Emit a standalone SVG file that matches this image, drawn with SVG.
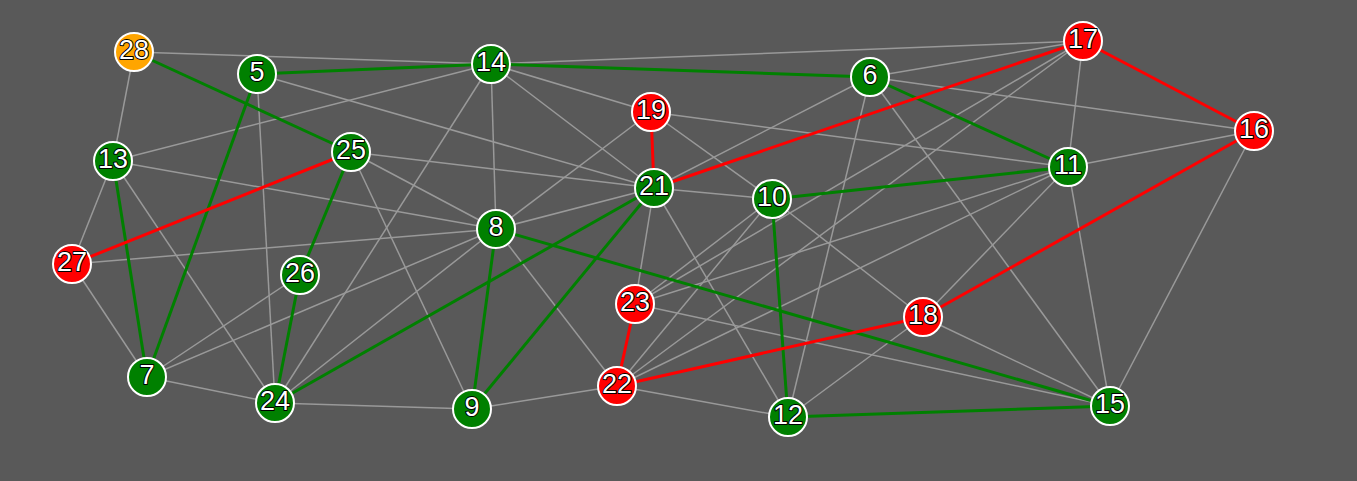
<svg xmlns="http://www.w3.org/2000/svg" width="1357" height="481" viewBox="0 0 1357 481">
<style>
.e{stroke:#999999;stroke-width:1.5;fill:none}
.g{stroke:#008000;stroke-width:3;fill:none}
.r{stroke:#ff0000;stroke-width:3;fill:none}
.n circle{stroke:#fff;stroke-width:2}
.n text{font-family:"Liberation Sans",Arial,sans-serif;font-size:27px;fill:#ffffff;stroke:#000000;stroke-width:2;stroke-linejoin:round;paint-order:stroke;text-anchor:middle}
.gn{fill:#008000}.rn{fill:#ff0000}.on{fill:#ffa500}
</style>
<rect width="1357" height="481" fill="#595959"/>
<g id="connectors">
<line class="e" x1="134" y1="52" x2="491" y2="64"/>
<line class="e" x1="134" y1="52" x2="113" y2="161"/>
<line class="e" x1="491" y1="64" x2="1083" y2="41"/>
<line class="e" x1="257" y1="74" x2="654" y2="188"/>
<line class="e" x1="257" y1="74" x2="275" y2="403"/>
<line class="e" x1="113" y1="161" x2="491" y2="64"/>
<line class="e" x1="113" y1="161" x2="496" y2="229"/>
<line class="e" x1="113" y1="161" x2="72" y2="264"/>
<line class="e" x1="113" y1="161" x2="275" y2="403"/>
<line class="e" x1="351" y1="152" x2="654" y2="188"/>
<line class="e" x1="351" y1="152" x2="496" y2="229"/>
<line class="e" x1="351" y1="152" x2="472" y2="409"/>
<line class="e" x1="491" y1="64" x2="275" y2="403"/>
<line class="e" x1="491" y1="64" x2="496" y2="229"/>
<line class="e" x1="491" y1="64" x2="654" y2="188"/>
<line class="e" x1="491" y1="64" x2="651" y2="112"/>
<line class="e" x1="496" y1="229" x2="651" y2="112"/>
<line class="e" x1="496" y1="229" x2="654" y2="188"/>
<line class="e" x1="496" y1="229" x2="72" y2="264"/>
<line class="e" x1="496" y1="229" x2="147" y2="377"/>
<line class="e" x1="147" y1="377" x2="300" y2="275"/>
<line class="e" x1="147" y1="377" x2="72" y2="264"/>
<line class="e" x1="147" y1="377" x2="275" y2="403"/>
<line class="e" x1="275" y1="403" x2="496" y2="229"/>
<line class="e" x1="275" y1="403" x2="472" y2="409"/>
<line class="e" x1="496" y1="229" x2="617" y2="386"/>
<line class="e" x1="472" y1="409" x2="617" y2="386"/>
<line class="e" x1="617" y1="386" x2="788" y2="417"/>
<line class="e" x1="654" y1="188" x2="635" y2="304"/>
<line class="e" x1="654" y1="188" x2="788" y2="417"/>
<line class="e" x1="635" y1="304" x2="1110" y2="406"/>
<line class="e" x1="788" y1="417" x2="870" y2="77"/>
<line class="e" x1="788" y1="417" x2="923" y2="317"/>
<line class="e" x1="772" y1="199" x2="651" y2="112"/>
<line class="e" x1="654" y1="188" x2="772" y2="199"/>
<line class="e" x1="651" y1="112" x2="1068" y2="167"/>
<line class="e" x1="654" y1="188" x2="870" y2="77"/>
<line class="e" x1="870" y1="77" x2="1083" y2="41"/>
<line class="e" x1="870" y1="77" x2="1254" y2="131"/>
<line class="e" x1="870" y1="77" x2="1110" y2="406"/>
<line class="e" x1="1083" y1="41" x2="1068" y2="167"/>
<line class="e" x1="1068" y1="167" x2="1254" y2="131"/>
<line class="e" x1="1254" y1="131" x2="1110" y2="406"/>
<line class="e" x1="1068" y1="167" x2="1110" y2="406"/>
<line class="e" x1="923" y1="317" x2="1110" y2="406"/>
<line class="e" x1="923" y1="317" x2="1068" y2="167"/>
<line class="e" x1="772" y1="199" x2="923" y2="317"/>
<line class="e" x1="1083" y1="41" x2="635" y2="304"/>
<line class="e" x1="1083" y1="41" x2="617" y2="386"/>
<line class="e" x1="1068" y1="167" x2="635" y2="304"/>
<line class="e" x1="1068" y1="167" x2="617" y2="386"/>
<line class="e" x1="772" y1="199" x2="617" y2="386"/>
<line class="e" x1="772" y1="199" x2="635" y2="304"/>
<line class="g" x1="134" y1="52" x2="351" y2="152"/>
<line class="g" x1="257" y1="74" x2="491" y2="64"/>
<line class="g" x1="491" y1="64" x2="870" y2="77"/>
<line class="g" x1="257" y1="74" x2="147" y2="377"/>
<line class="g" x1="870" y1="77" x2="1068" y2="167"/>
<line class="g" x1="113" y1="161" x2="147" y2="377"/>
<line class="g" x1="351" y1="152" x2="300" y2="275"/>
<line class="g" x1="300" y1="275" x2="275" y2="403"/>
<line class="g" x1="772" y1="199" x2="1068" y2="167"/>
<line class="g" x1="654" y1="188" x2="275" y2="403"/>
<line class="g" x1="654" y1="188" x2="472" y2="409"/>
<line class="g" x1="496" y1="229" x2="472" y2="409"/>
<line class="g" x1="496" y1="229" x2="1110" y2="406"/>
<line class="g" x1="772" y1="199" x2="788" y2="417"/>
<line class="g" x1="788" y1="417" x2="1110" y2="406"/>
<line class="r" x1="72" y1="264" x2="351" y2="152"/>
<line class="r" x1="651" y1="112" x2="654" y2="188"/>
<line class="r" x1="654" y1="188" x2="1083" y2="41"/>
<line class="r" x1="1083" y1="41" x2="1254" y2="131"/>
<line class="r" x1="1254" y1="131" x2="923" y2="317"/>
<line class="r" x1="923" y1="317" x2="617" y2="386"/>
<line class="r" x1="635" y1="304" x2="617" y2="386"/>
</g>
<g id="n28" class="n"><circle class="on" cx="134" cy="52" r="19"/><text x="134" y="59">28</text></g>
<g id="n5" class="n"><circle class="gn" cx="257" cy="74" r="19"/><text x="257" y="81">5</text></g>
<g id="n14" class="n"><circle class="gn" cx="491" cy="64" r="19"/><text x="491" y="71">14</text></g>
<g id="n6" class="n"><circle class="gn" cx="870" cy="77" r="19"/><text x="870" y="84">6</text></g>
<g id="n17" class="n"><circle class="rn" cx="1083" cy="41" r="19"/><text x="1083" y="48">17</text></g>
<g id="n16" class="n"><circle class="rn" cx="1254" cy="131" r="19"/><text x="1254" y="138">16</text></g>
<g id="n19" class="n"><circle class="rn" cx="651" cy="112" r="19"/><text x="651" y="119">19</text></g>
<g id="n13" class="n"><circle class="gn" cx="113" cy="161" r="19"/><text x="113" y="168">13</text></g>
<g id="n25" class="n"><circle class="gn" cx="351" cy="152" r="19"/><text x="351" y="159">25</text></g>
<g id="n21" class="n"><circle class="gn" cx="654" cy="188" r="19"/><text x="654" y="195">21</text></g>
<g id="n10" class="n"><circle class="gn" cx="772" cy="199" r="19"/><text x="772" y="206">10</text></g>
<g id="n11" class="n"><circle class="gn" cx="1068" cy="167" r="19"/><text x="1068" y="174">11</text></g>
<g id="n8" class="n"><circle class="gn" cx="496" cy="229" r="19"/><text x="496" y="236">8</text></g>
<g id="n27" class="n"><circle class="rn" cx="72" cy="264" r="19"/><text x="72" y="271">27</text></g>
<g id="n26" class="n"><circle class="gn" cx="300" cy="275" r="19"/><text x="300" y="282">26</text></g>
<g id="n23" class="n"><circle class="rn" cx="635" cy="304" r="19"/><text x="635" y="311">23</text></g>
<g id="n18" class="n"><circle class="rn" cx="923" cy="317" r="19"/><text x="923" y="324">18</text></g>
<g id="n7" class="n"><circle class="gn" cx="147" cy="377" r="19"/><text x="147" y="384">7</text></g>
<g id="n24" class="n"><circle class="gn" cx="275" cy="403" r="19"/><text x="275" y="410">24</text></g>
<g id="n9" class="n"><circle class="gn" cx="472" cy="409" r="19"/><text x="472" y="416">9</text></g>
<g id="n22" class="n"><circle class="rn" cx="617" cy="386" r="19"/><text x="617" y="393">22</text></g>
<g id="n12" class="n"><circle class="gn" cx="788" cy="417" r="19"/><text x="788" y="424">12</text></g>
<g id="n15" class="n"><circle class="gn" cx="1110" cy="406" r="19"/><text x="1110" y="413">15</text></g>
</svg>
